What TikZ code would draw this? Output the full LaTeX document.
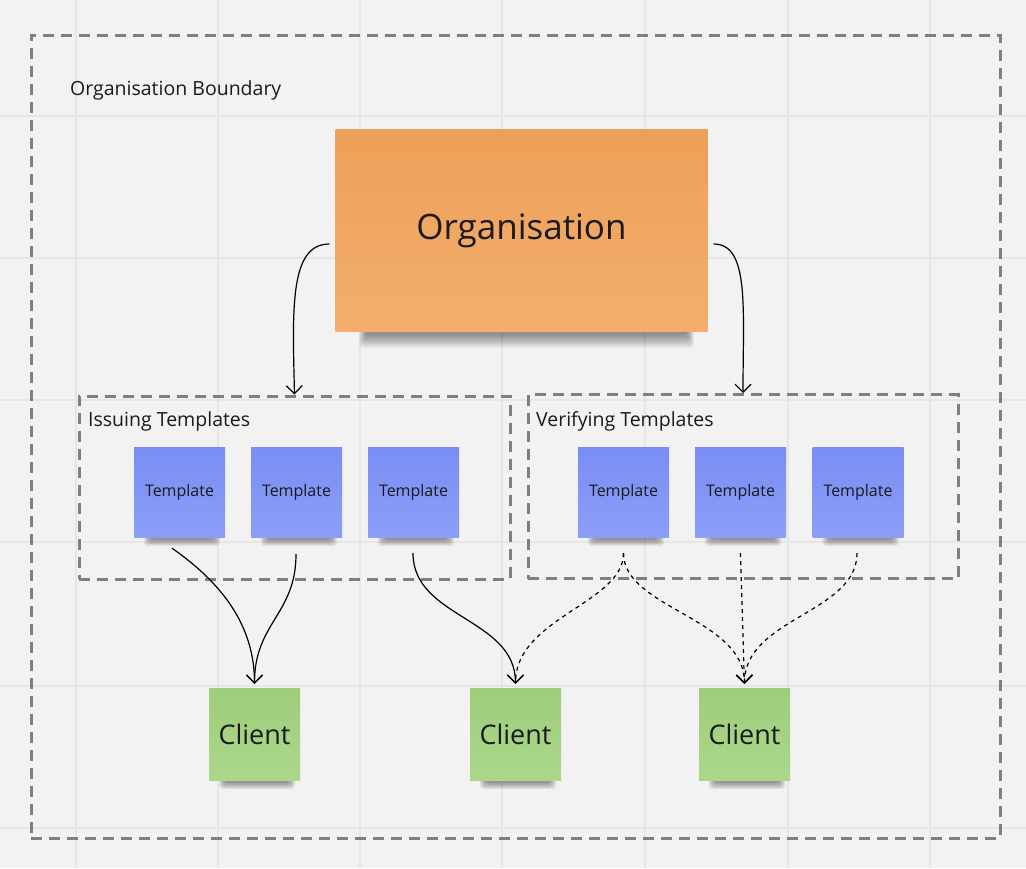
\documentclass[tikz,border=0pt]{standalone}
\usepackage{fontspec}
\setmainfont{Open Sans}
\usetikzlibrary{arrows.meta,calc}
\definecolor{bgc}{HTML}{F2F2F2}
\definecolor{gridc}{HTML}{E6E6E6}
\definecolor{dashc}{HTML}{7F7F7F}
\definecolor{inkc}{HTML}{1A1A1A}
\definecolor{orgtop}{HTML}{EDA057}
\definecolor{orgbot}{HTML}{F3AE6E}
\definecolor{tpltop}{HTML}{7A8DF3}
\definecolor{tplbot}{HTML}{8B9FF8}
\definecolor{clitop}{HTML}{9ECD7B}
\definecolor{clibot}{HTML}{ABD78A}
\pgfdeclarelayer{bglayer}
\pgfdeclarelayer{shadowlayer}
\pgfsetlayers{bglayer,shadowlayer,main}
\newcommand\notesh[4]{%
  \foreach \k in {0,1,2,3,4,5,6} {%
    \fill[black,opacity=0.065,rounded corners=4pt]
      ($(#1.south west)+(#2+\k,-4)$) rectangle ($(#1.south east)+(-#3-\k,#4-\k*#4/8)$);}}
\tikzset{
  note/.style={rectangle,inner sep=0pt,text=inkc},
  orgnote/.style={note,minimum width=372pt,minimum height=202pt,top color=orgtop,bottom color=orgbot,font=\fontsize{35}{40}\selectfont},
  tplnote/.style={note,minimum width=91pt,minimum height=90pt,top color=tpltop,bottom color=tplbot,font=\fontsize{16}{19}\selectfont},
  clinote/.style={note,minimum width=91pt,minimum height=92pt,top color=clitop,bottom color=clibot,font=\fontsize{27}{32}\selectfont},
  groupbox/.style={rectangle,draw=dashc,line width=3pt,dash pattern=on 11pt off 7pt,inner sep=0pt},
  grouplbl/.style={anchor=west,inner sep=0pt,text=inkc,font=\fontsize{19.5}{23}\selectfont},
  conn/.style={draw=black,line width=1.2pt,-{Straight Barb[length=8pt,width=16pt,line width=1.2pt]}},
  dconn/.style={conn,dash pattern=on 4pt off 4pt},
}
\begin{document}
\begin{tikzpicture}[x=1pt,y=-1pt]
\useasboundingbox (0,0) rectangle (1026,868);
\begin{pgfonlayer}{bglayer}
\fill[bgc] (0,0) rectangle (1026,868);
\foreach \gx in {76,218,360,502,645,788,930} \draw[gridc,line width=1.5pt] (\gx,0) -- (\gx,868);
\foreach \gy in {116,258,400,542,686,828} \draw[gridc,line width=1.5pt] (0,\gy) -- (1026,\gy);
\end{pgfonlayer}

% groups
\node[groupbox,minimum width=969pt,minimum height=803pt] (outer) at (515.5,436.5) {};
\node[grouplbl] (outerlbl) at (70,90) {Organisation Boundary};
\node[groupbox,minimum width=431pt,minimum height=183pt] (iss) at (294.5,487.5) {};
\node[grouplbl] (isslbl) at (88,421) {Issuing Templates};
\node[groupbox,minimum width=430pt,minimum height=184pt] (ver) at (743,486.5) {};
\node[grouplbl] (verlbl) at (536,421) {Verifying Templates};

% notes
\node[orgnote] (org) at (521.5,230.5) {Organisation};
\node[tplnote] (t1) at (179.5,492) {Template};
\node[tplnote] (t2) at (296.5,492) {Template};
\node[tplnote] (t3) at (413.5,492) {Template};
\node[tplnote] (v1) at (623.5,492) {Template};
\node[tplnote] (v2) at (740.5,492) {Template};
\node[tplnote] (v3) at (858,492) {Template};
\node[clinote] (c1) at (254.5,734) {Client};
\node[clinote] (c2) at (515.5,734) {Client};
\node[clinote] (c3) at (744.5,734) {Client};

\begin{pgfonlayer}{shadowlayer}
\notesh{org}{24}{14}{16}
\foreach \n in {t1,t2,t3,v1,v2,v3} {\notesh{\n}{10}{5}{9}}
\foreach \n in {c1,c2,c3} {\notesh{\n}{10}{5}{9}}
\end{pgfonlayer}

% connectors
\draw[conn] ([xshift=-6pt,yshift=-13.5pt]org.west) .. controls +(-40,0) and +(-2,-85) .. (iss.north);
\draw[conn] ([xshift=6pt,yshift=-13.5pt]org.east) .. controls +(36,0) and +(0,-85) .. (ver.north);

\draw[conn,shorten >=4pt] ([xshift=-7.5pt,yshift=-11pt]t1.south) .. controls +(40,28) and +(0,-70) .. (c1.north);
\draw[conn,shorten >=4pt] ([xshift=-0.5pt,yshift=-17pt]t2.south) .. controls +(0,60) and +(0,-65) .. (c1.north);
\draw[conn,shorten >=4pt] ([xshift=-0.5pt,yshift=-16pt]t3.south) .. controls +(0,65) and +(0,-70) .. (c2.north);

\draw[dconn,shorten >=4pt] ([yshift=-16pt]v1.south) .. controls +(0,50) and +(0,-70) .. (c2.north);
\draw[dconn,shorten >=4pt] ([yshift=-16pt]v1.south) .. controls +(0,55) and +(0,-70) .. (c3.north);
\draw[dconn,shorten >=4pt] ([yshift=-16pt]v2.south) -- (c3.north);
\draw[dconn,shorten >=4pt] ([xshift=-1pt,yshift=-16pt]v3.south) .. controls +(0,60) and +(0,-70) .. (c3.north);
\end{tikzpicture}
\end{document}
